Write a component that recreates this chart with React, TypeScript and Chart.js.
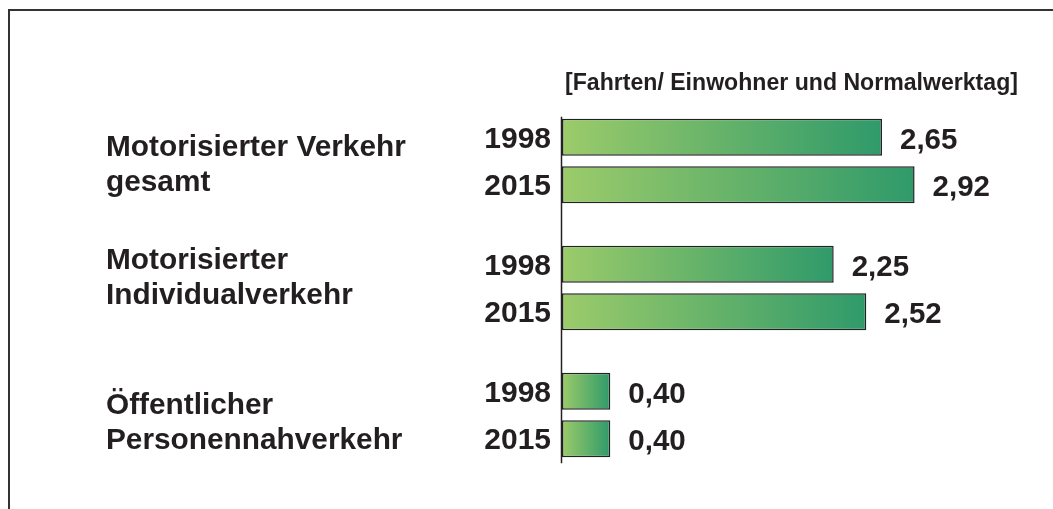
import React, { useEffect, useRef } from 'react';
import { Chart, registerables } from 'chart.js';

Chart.register(...registerables);

// ---- data ----
const groupLabels: string[][] = [
  ['Motorisierter Verkehr', 'gesamt'],
  ['Motorisierter', 'Individualverkehr'],
  ['Öffentlicher', 'Personennahverkehr'],
];
const yearLabels = ['1998', '2015'];
const values1998 = [2.65, 2.25, 0.4];
const values2015 = [2.92, 2.52, 0.4];
const unitLabel = '[Fahrten/ Einwohner und Normalwerktag]';

// ---- style ----
const FONT = '"Liberation Sans", Arial, Helvetica, sans-serif';
const TEXT = '#231f20';
const GRAD_LIGHT = '#9ccb6a';
const GRAD_DARK = '#2f9a6a';
// first-line baseline offset from the group centre
const groupLabelBaseline = [-5, -19, -1];

function drawText(ctx: CanvasRenderingContext2D, text: string, x: number, y: number, size: number, align: CanvasTextAlign, sx: number) {
  ctx.save();
  ctx.font = `bold ${size}px ${FONT}`;
  ctx.fillStyle = TEXT;
  ctx.translate(x, y);
  ctx.scale(sx, 1);
  ctx.textAlign = align;
  ctx.textBaseline = 'alphabetic';
  ctx.fillText(text, 0, 0);
  ctx.restore();
}

const fmt = (v: number) => v.toFixed(2).replace('.', ',');

const overlay = {
  id: 'overlay',
  afterDatasetsDraw(chart: any) {
    const ctx: CanvasRenderingContext2D = chart.ctx;
    const xs = chart.scales.x;
    const ys = chart.scales.y;
    const x0 = xs.getPixelForValue(0);

    let top = Infinity;
    let bottom = -Infinity;
    chart.data.datasets.forEach((ds: any, di: number) => {
      const meta = chart.getDatasetMeta(di);
      meta.data.forEach((el: any, i: number) => {
        const p = el.getProps(['x', 'y', 'base', 'height'], true);
        top = Math.min(top, p.y - p.height / 2);
        bottom = Math.max(bottom, p.y + p.height / 2);
        const capHalf = 0.716 * 30 / 2;
        drawText(ctx, yearLabels[di], x0 - 11, p.y + capHalf, 30, 'right', 1.0);
        drawText(ctx, fmt(ds.data[i]), p.x + 18, p.y + capHalf + 1, 29.5, 'left', 1.0);
      });
    });

    // axis line
    ctx.save();
    ctx.strokeStyle = '#222';
    ctx.lineWidth = 1.5;
    ctx.beginPath();
    ctx.moveTo(x0 - 0.5, top - 2);
    ctx.lineTo(x0 - 0.5, bottom + 6);
    ctx.stroke();
    ctx.restore();

    // group labels
    groupLabels.forEach((lines, gi) => {
      const base = ys.getPixelForValue(gi) + groupLabelBaseline[gi];
      const lh = 35;
      lines.forEach((line, li) => {
        drawText(ctx, line, 106, base + li * lh, 29.8, 'left', 1.0);
      });
    });

    // unit label
    drawText(ctx, unitLabel, 565, 90, 23.1, 'left', 1.0);

    // frame
    ctx.save();
    ctx.strokeStyle = '#333';
    ctx.lineWidth = 2;
    ctx.beginPath();
    ctx.moveTo(9, chart.height);
    ctx.lineTo(9, 10);
    ctx.lineTo(chart.width, 10);
    ctx.stroke();
    ctx.restore();
  },
};

function gradientFill(context: any) {
  const chart = context.chart;
  if (!chart.chartArea || context.raw == null) return GRAD_LIGHT;
  const xs = chart.scales.x;
  const a = xs.getPixelForValue(0);
  const b = xs.getPixelForValue(context.raw);
  if (!isFinite(a) || !isFinite(b) || a === b) return GRAD_LIGHT;
  const g = chart.ctx.createLinearGradient(a, 0, b, 0);
  g.addColorStop(0, GRAD_LIGHT);
  g.addColorStop(1, GRAD_DARK);
  return g;
}

export default function App() {
  const ref = useRef<HTMLCanvasElement | null>(null);

  useEffect(() => {
    document.body.style.margin = '0';
    const canvas = ref.current;
    if (!canvas) return;
    const chart = new Chart(canvas, {
      type: 'bar',
      data: {
        labels: groupLabels.map((l) => l.join(' ')),
        datasets: [
          {
            label: yearLabels[0],
            data: values1998,
            backgroundColor: gradientFill,
            borderColor: '#222',
            borderWidth: 1.5,
            borderSkipped: false,
            categoryPercentage: 0.748,
            barPercentage: 0.779,
          },
          {
            label: yearLabels[1],
            data: values2015,
            backgroundColor: gradientFill,
            borderColor: '#222',
            borderWidth: 1.5,
            borderSkipped: false,
            categoryPercentage: 0.748,
            barPercentage: 0.779,
          },
        ],
      },
      options: {
        indexAxis: 'y',
        responsive: false,
        animation: false,
        devicePixelRatio: 1,
        layout: { padding: { left: 562, right: 8, top: 97.5, bottom: 30.5 } },
        scales: {
          x: { type: 'linear', min: 0, max: 4, display: false },
          y: { type: 'category', display: false, offset: true },
        },
        plugins: {
          legend: { display: false },
          tooltip: { enabled: false },
          title: { display: false },
        },
      },
      plugins: [overlay],
    } as any);
    return () => chart.destroy();
  }, []);

  return (
    <div style={{ width: 1053, height: 509, background: '#fff' }}>
      <canvas ref={ref} width={1053} height={509} style={{ display: 'block', width: 1053, height: 509 }} />
    </div>
  );
}
